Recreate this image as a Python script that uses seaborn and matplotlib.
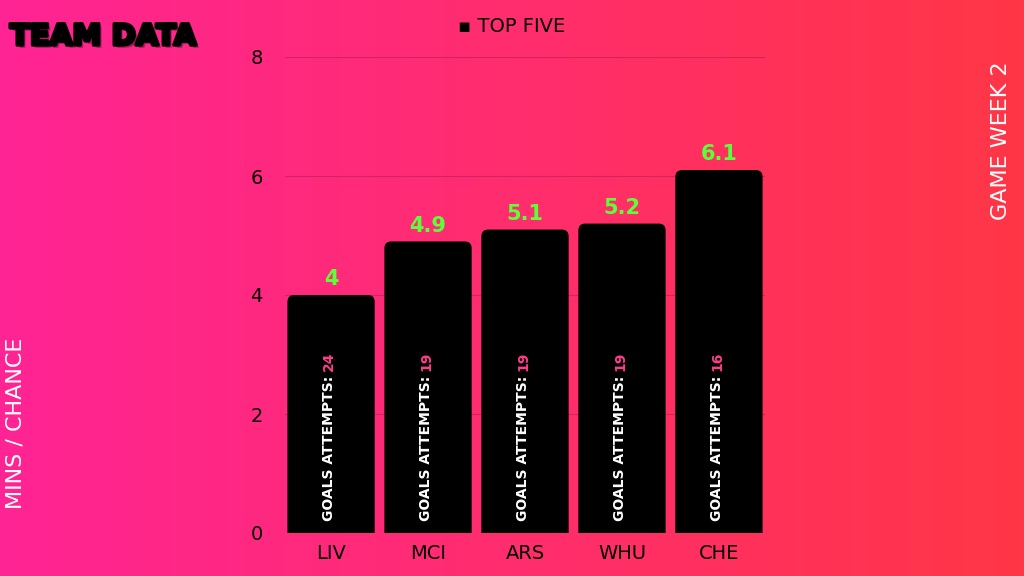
import numpy as np
import pandas as pd
import matplotlib
matplotlib.use("Agg")
import matplotlib.pyplot as plt
import matplotlib.patheffects as pe
from matplotlib.colors import LinearSegmentedColormap
from matplotlib.patches import FancyBboxPatch
import seaborn as sns

teams = ["LIV", "MCI", "ARS", "WHU", "CHE"]
mins_per_chance = [4, 4.9, 5.1, 5.2, 6.1]
goal_attempts = [24, 19, 19, 19, 16]
value_labels = ["4", "4.9", "5.1", "5.2", "6.1"]

df = pd.DataFrame({"team": teams, "mins": mins_per_chance})

sns.set_theme(style="white")
plt.rcParams["font.family"] = ["DejaVu Sans"]

fig = plt.figure(figsize=(10.24, 5.76), dpi=100)

# background gradient, pink -> red
bg = fig.add_axes([0, 0, 1, 1], zorder=-10)
cmap = LinearSegmentedColormap.from_list("bg", ["#ff2494", "#ff2d6e", "#ff3646"])
grad = np.linspace(0, 1, 256).reshape(1, -1)
bg.imshow(grad, aspect="auto", cmap=cmap, extent=[0, 1, 0, 1])
bg.axis("off")

ax = fig.add_axes([285 / 1024, 1 - 533 / 576, 480 / 1024, 476 / 576])
ax.patch.set_alpha(0)

sns.barplot(data=df, x="team", y="mins", color="black", width=0.9,
            saturation=1, ax=ax, zorder=3)

ax.set_ylim(0, 8)
ax.set_xlim(-0.475, 4.475)
ax.set_yticks([0, 2, 4, 6, 8])
ax.yaxis.grid(True, color="#b0205a", linewidth=0.8, alpha=0.6, zorder=0)
ax.set_axisbelow(True)
for s in ax.spines.values():
    s.set_visible(False)
ax.tick_params(axis="both", length=0, labelsize=14, labelcolor="black")
ax.tick_params(axis="y", pad=16)
ax.tick_params(axis="x", pad=8)
ax.set_xlabel("")
ax.set_ylabel("")

# rounded bar tops
r_x = 0.07
asp = (8 / 476) / (4.95 / 480)
for p in list(ax.patches):
    x0, w, h = p.get_x(), p.get_width(), p.get_height()
    rb = FancyBboxPatch((x0, -0.3), w, h + 0.3,
                        boxstyle=f"round,pad=0,rounding_size={r_x}",
                        mutation_aspect=asp, facecolor="black",
                        edgecolor="none", zorder=3)
    p.remove()
    ax.add_patch(rb)

for i, (v, lab, g) in enumerate(zip(mins_per_chance, value_labels, goal_attempts)):
    ax.text(i, v + 0.1, lab, ha="center", va="bottom", color="#5cff3a",
            fontsize=15, fontweight="bold", zorder=5)
    t = ax.text(i - 0.02, 0.2, "GOALS ATTEMPTS: ", rotation=90, ha="center",
                va="bottom", color="white", fontsize=10, fontweight="bold",
                zorder=5)
    ax.annotate(str(g), xy=(0.5, 1), xycoords=t, rotation=90, ha="center",
                va="bottom", color="#ff3d8b", fontsize=10,
                fontweight="bold", zorder=5)

# legend marker and label
fig.text(0.5, 1 - 27 / 576, "\u25AA TOP FIVE", ha="center", va="center",
         fontsize=14, color="black")

fig.text(10 / 1024, 1 - 37 / 576, "TEAM DATA", ha="left", va="center",
         fontsize=21, fontweight="bold", color="black",
         path_effects=[pe.withSimplePatchShadow(offset=(2, -2),
                                               shadow_rgbFace="#000000",
                                               alpha=0.35),
                       pe.Stroke(linewidth=2.5, foreground="black"),
                       pe.Normal()])

fig.text(16 / 1024, 1 - 423 / 576, "MINS / CHANCE", rotation=90, ha="center",
         va="center", fontsize=16, color="white")
fig.text(1001 / 1024, 1 - 141 / 576, "GAME WEEK 2", rotation=90, ha="center",
         va="center", fontsize=16, color="white")

fig.savefig("out.png", dpi=100)
